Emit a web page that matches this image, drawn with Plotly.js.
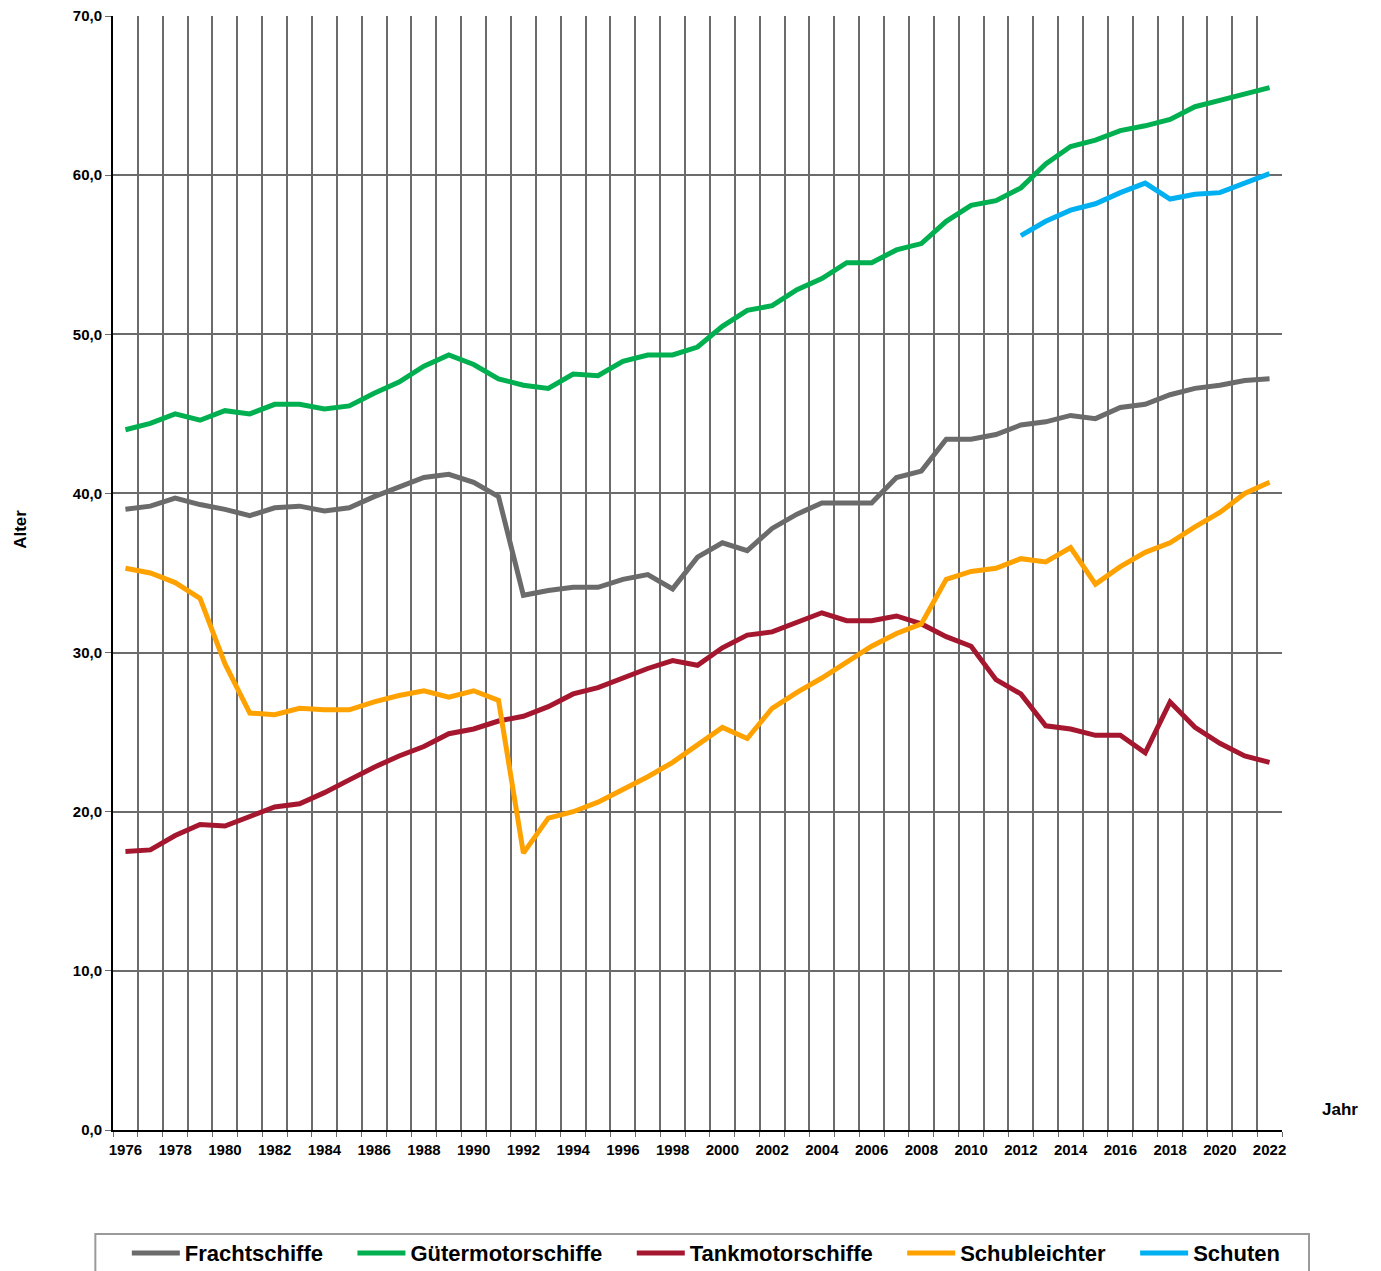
<!DOCTYPE html>
<html>
<head>
<meta charset="utf-8">
<script src="https://cdn.plot.ly/plotly-3.0.1.min.js"></script>
<style>html,body{margin:0;padding:0;background:#fff;}#chart{width:1381px;height:1271px;}</style>
</head>
<body>
<div id="chart"></div>
<script>
const years = [];
for (let y = 1976; y <= 2022; y++) years.push(y);

const frachtschiffe = [39.0,39.2,39.7,39.3,39.0,38.6,39.1,39.2,38.9,39.1,39.8,40.4,41.0,41.2,40.7,39.8,33.6,33.9,34.1,34.1,34.6,34.9,34.0,36.0,36.9,36.4,37.8,38.7,39.4,39.4,39.4,41.0,41.4,43.4,43.4,43.7,44.3,44.5,44.9,44.7,45.4,45.6,46.2,46.6,46.8,47.1,47.2];
const guetermotorschiffe = [44.0,44.4,45.0,44.6,45.2,45.0,45.6,45.6,45.3,45.5,46.3,47.0,48.0,48.7,48.1,47.2,46.8,46.6,47.5,47.4,48.3,48.7,48.7,49.2,50.5,51.5,51.8,52.8,53.5,54.5,54.5,55.3,55.7,57.1,58.1,58.4,59.2,60.7,61.8,62.2,62.8,63.1,63.5,64.3,64.7,65.1,65.5];
const tankmotorschiffe = [17.5,17.6,18.5,19.2,19.1,19.7,20.3,20.5,21.2,22.0,22.8,23.5,24.1,24.9,25.2,25.7,26.0,26.6,27.4,27.8,28.4,29.0,29.5,29.2,30.3,31.1,31.3,31.9,32.5,32.0,32.0,32.3,31.8,31.0,30.4,28.3,27.4,25.4,25.2,24.8,24.8,23.7,26.9,25.3,24.3,23.5,23.1];
const schubleichter = [35.3,35.0,34.4,33.4,29.3,26.2,26.1,26.5,26.4,26.4,26.9,27.3,27.6,27.2,27.6,27.0,17.4,19.6,20.0,20.6,21.4,22.2,23.1,24.2,25.3,24.6,26.5,27.5,28.4,29.4,30.4,31.2,31.8,34.6,35.1,35.3,35.9,35.7,36.6,34.3,35.4,36.3,36.9,37.9,38.8,40.0,40.7];
const schutenYears = [2012,2013,2014,2015,2016,2017,2018,2019,2020,2021,2022];
const schuten = [56.2,57.1,57.8,58.2,58.9,59.5,58.5,58.8,58.9,59.5,60.1];
const tickYears = years.filter(y => (y - 1976) % 2 === 0);
const yTicks = [0,10,20,30,40,50,60,70];

const seriesNames = ["Frachtschiffe","Gütermotorschiffe","Tankmotorschiffe","Schubleichter","Schuten"];
const colors = ["#6b6b6b","#00b050","#a5172f","#ffa200","#00b0f0"];

const FONT = "Liberation Sans, Arial, sans-serif";
const PAD = "\u00a0\u00a0\u00a0\u00a0";
const mk = (x, y, i) => ({
  x: x, y: y, type: "scatter", mode: "lines",
  name: seriesNames[i] + (i < seriesNames.length - 1 ? PAD : ""),
  line: {color: colors[i], width: 5, shape: "linear"}, hoverinfo: "x+y+name"
});

const data = [
  mk(years, frachtschiffe, 0),
  mk(years, guetermotorschiffe, 1),
  mk(years, tankmotorschiffe, 2),
  mk(years, schubleichter, 3),
  mk(schutenYears, schuten, 4)
];

const gridC = "#6b6b6b";
const layout = {
  width: 1381, height: 1271,
  margin: {l: 113, r: 99, t: 16, b: 141, pad: 0, autoexpand: false},
  paper_bgcolor: "#ffffff", plot_bgcolor: "#ffffff",
  separators: ",.",
  font: {family: FONT, color: "#000", size: 14},
  showlegend: true,
  xaxis: {
    type: "linear", range: [1975.5, 2022.5], fixedrange: true,
    tickvals: tickYears, ticktext: tickYears.map(String),
    ticks: "", showgrid: false, zeroline: false,
    showline: true, linecolor: "#000", linewidth: 2,
    tickfont: {family: FONT, size: 15, weight: "bold", color: "#000"},
    ticklabelstandoff: 5,
    minor: {tick0: 1975.5, dtick: 1, showgrid: true, gridcolor: gridC, gridwidth: 2,
            ticks: "outside", ticklen: 5, tickcolor: gridC, tickwidth: 1}
  },
  yaxis: {
    range: [0, 70], fixedrange: true, tickvals: yTicks, tickformat: ".1f",
    showgrid: true, gridcolor: gridC, gridwidth: 2, zeroline: false,
    showline: true, linecolor: "#000", linewidth: 2,
    ticks: "outside", ticklen: 6, tickcolor: gridC, tickwidth: 1,
    tickfont: {family: FONT, size: 15, weight: "bold", color: "#000"}
  },
  legend: {
    orientation: "h", x: -0.001, xanchor: "left", y: -0.1105, yanchor: "middle",
    font: {family: FONT, size: 22, weight: "bold", color: "#000"},
    bgcolor: "rgba(0,0,0,0)", bordercolor: "rgba(0,0,0,0)", borderwidth: 15, itemwidth: 48,
    traceorder: "normal"
  },
  shapes: [{
    type: "rect", xref: "paper", yref: "paper",
    x0: -0.0151, x1: 1.0231, y0: -0.0934, y1: -0.135,
    line: {color: "#9a9a9a", width: 2}, fillcolor: "rgba(0,0,0,0)", layer: "below"
  }],
  annotations: [
    {text: "<b>Jahr</b>", xref: "paper", yref: "paper", x: 1.0496, y: 0.018,
     xanchor: "center", yanchor: "middle",
     showarrow: false, font: {family: FONT, size: 17, color: "#000"}},
    {text: "<b>Alter</b>", xref: "paper", yref: "paper", x: -0.0793, y: 0.539,
     xanchor: "center", yanchor: "middle",
     textangle: -90, showarrow: false, font: {family: FONT, size: 17, color: "#000"}}
  ]
};

Plotly.newPlot("chart", data, layout, {displayModeBar: false, staticPlot: false});
</script>
</body>
</html>
